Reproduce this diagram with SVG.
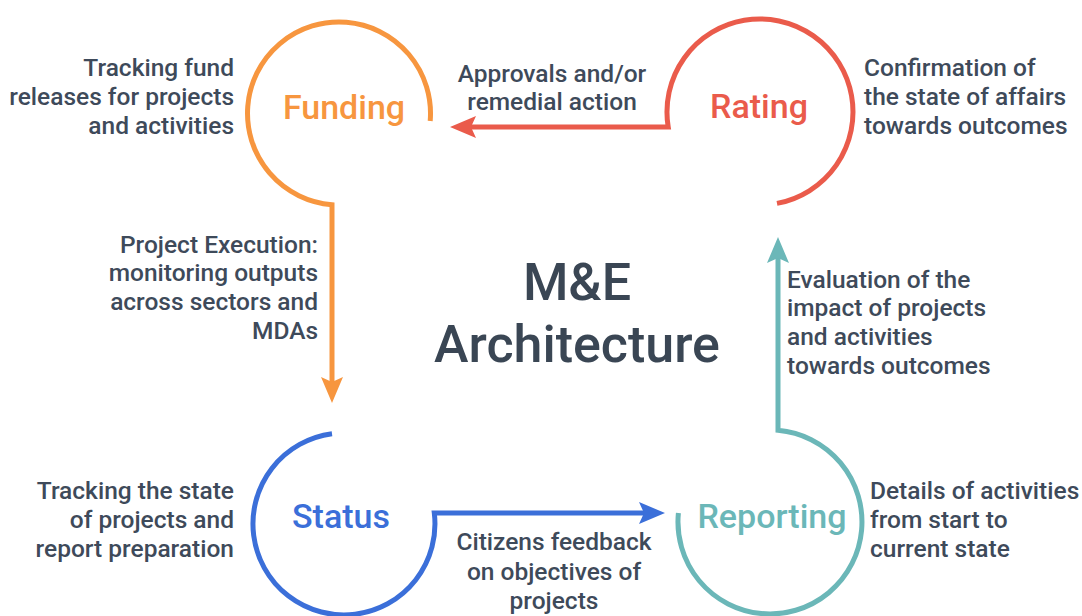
<svg xmlns="http://www.w3.org/2000/svg" width="1082" height="616" viewBox="0 0 1082 616">
<style>
.txt{font-family:Roboto,"Liberation Sans",sans-serif;font-weight:500;font-size:24.5px;fill:#3E4A5A}
.lbl{font-family:Roboto,"Liberation Sans",sans-serif;font-weight:500;font-size:34px;text-anchor:middle}
.title{font-family:Roboto,"Liberation Sans",sans-serif;font-weight:500;font-size:52px;fill:#3A4654;text-anchor:middle}
.r{text-anchor:end}.m{text-anchor:middle}
.ln{fill:none;stroke-width:5}
</style>
<defs>
<marker id="aO" markerUnits="userSpaceOnUse" markerWidth="26" markerHeight="22" viewBox="0 0 26 22" refX="5" refY="11" orient="auto"><path d="M0,0 L26,11 L0,22 L5,11 Z" fill="#F7963F"/></marker>
<marker id="aR" markerUnits="userSpaceOnUse" markerWidth="26" markerHeight="22" viewBox="0 0 26 22" refX="5" refY="11" orient="auto"><path d="M0,0 L26,11 L0,22 L5,11 Z" fill="#EA5B4B"/></marker>
<marker id="aB" markerUnits="userSpaceOnUse" markerWidth="26" markerHeight="22" viewBox="0 0 26 22" refX="5" refY="11" orient="auto"><path d="M0,0 L26,11 L0,22 L5,11 Z" fill="#3B6FD9"/></marker>
<marker id="aT" markerUnits="userSpaceOnUse" markerWidth="26" markerHeight="22" viewBox="0 0 26 22" refX="5" refY="11" orient="auto"><path d="M0,0 L26,11 L0,22 L5,11 Z" fill="#6BB7B8"/></marker>
</defs>
<rect width="1082" height="616" fill="#FFFFFF"/>
<g id="connectors">
<path class="ln" stroke="#F7963F" d="M430.2 121 A91.5 91.5 0 1 0 332 204.7 L332 382" marker-end="url(#aO)"/>
<path class="ln" stroke="#EA5B4B" d="M777 203.4 A93 93 0 1 0 668.2 127 L471 127" marker-end="url(#aR)"/>
<path class="ln" stroke="#3B6FD9" d="M332 433.7 A91 91 0 1 0 434.3 513 L644 513" marker-end="url(#aB)"/>
<path class="ln" stroke="#6BB7B8" d="M678.4 513 A92 92 0 1 0 778 430.3 L778 258" marker-end="url(#aT)"/>
</g>
<g id="title">
<text class="title" x="577" y="300">M&amp;E</text>
<text class="title" x="577" y="362">Architecture</text>
</g>
<g id="funding">
<text class="lbl" x="344" y="119" fill="#F7963F">Funding</text>
<text class="txt r" x="234" y="76">Tracking fund</text>
<text class="txt r" x="234" y="105">releases for projects</text>
<text class="txt r" x="234" y="134">and activities</text>
</g>
<g id="rating">
<text class="lbl" x="759" y="118" fill="#EA5B4B">Rating</text>
<text class="txt" x="864" y="76">Confirmation of</text>
<text class="txt" x="864" y="105">the state of affairs</text>
<text class="txt" x="864" y="134">towards outcomes</text>
</g>
<g id="status">
<text class="lbl" x="341" y="528" fill="#3B6FD9">Status</text>
<text class="txt r" x="234" y="499">Tracking the state</text>
<text class="txt r" x="234" y="528">of projects and</text>
<text class="txt r" x="234" y="557">report preparation</text>
</g>
<g id="reporting">
<text class="lbl" x="772" y="528" fill="#6BB7B8">Reporting</text>
<text class="txt" x="870" y="499">Details of activities</text>
<text class="txt" x="870" y="528">from start to</text>
<text class="txt" x="870" y="557">current state</text>
</g>
<g id="label-approvals">
<text class="txt m" x="552" y="82">Approvals and/or</text>
<text class="txt m" x="552" y="110">remedial action</text>
</g>
<g id="label-execution">
<text class="txt r" x="318" y="253">Project Execution:</text>
<text class="txt r" x="318" y="281">monitoring outputs</text>
<text class="txt r" x="318" y="310">across sectors and</text>
<text class="txt r" x="318" y="339">MDAs</text>
</g>
<g id="label-evaluation">
<text class="txt" x="787" y="288">Evaluation of the</text>
<text class="txt" x="787" y="316">impact of projects</text>
<text class="txt" x="787" y="345">and activities</text>
<text class="txt" x="787" y="374">towards outcomes</text>
</g>
<g id="label-feedback">
<text class="txt m" x="554" y="550">Citizens feedback</text>
<text class="txt m" x="554" y="580">on objectives of</text>
<text class="txt m" x="554" y="609">projects</text>
</g>
</svg>
